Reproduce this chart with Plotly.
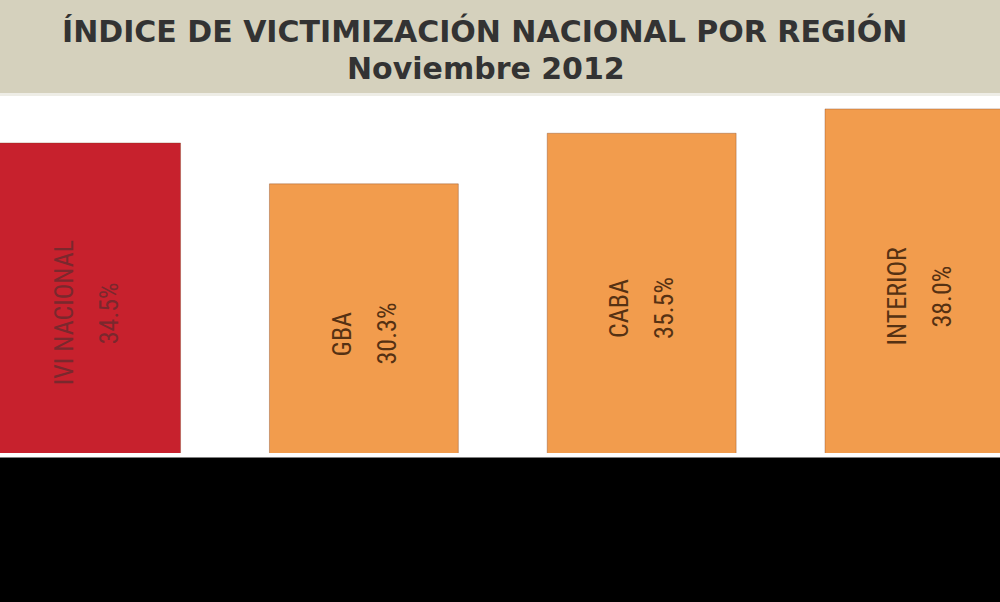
import plotly.graph_objects as go

# Data
regions = ["IVI NACIONAL", "GBA", "CABA", "INTERIOR"]
values = [34.5, 30.3, 35.5, 38.0]
value_labels = ["34.5%", "30.3%", "35.5%", "38.0%"]
bar_colors = ["#c7212d", "#f29c4d", "#f29c4d", "#f29c4d"]
text_colors = ["#7a282d", "#553113", "#553113", "#553113"]

title_line1 = "ÍNDICE DE VICTIMIZACIÓN NACIONAL POR REGIÓN"
title_line2 = "Noviembre 2012"

plot_h = 357.5  # pixel height of the white plot area
label_font = dict(family="Roboto Condensed, Liberation Sans Narrow, Liberation Sans, sans-serif", size=26)
title_font = dict(family="DejaVu Sans, sans-serif", size=30, color="#333333")

fig = go.Figure()
fig.add_trace(go.Bar(
    x=regions,
    y=values,
    marker=dict(color=bar_colors, line=dict(color="rgba(120,60,30,0.35)", width=1)),
    width=0.68,
    hoverinfo="x+y",
    showlegend=False,
))

# rotated labels inside the bars: region name and value side by side
for reg, val, lab, tc in zip(regions, values, value_labels, text_colors):
    fig.add_annotation(x=reg, y=val / 2 + 1.3, text=reg, textangle=-90, showarrow=False,
                       xshift=-22, yshift=-15, font=dict(label_font, color=tc))
    fig.add_annotation(x=reg, y=val / 2 + 1.3, text=lab, textangle=-90, showarrow=False,
                       xshift=23, yshift=-15, font=dict(label_font, color=tc))

# title band on top, thin white strip under the bars
fig.add_shape(type="rect", xref="paper", yref="paper", x0=0, x1=1,
              y0=1 + 3 / plot_h, y1=1 + 100 / plot_h,
              fillcolor="#d5d1bd", line=dict(width=0), layer="below")
fig.add_shape(type="rect", xref="paper", yref="paper", x0=0, x1=1,
              y0=1, y1=1 + 3 / plot_h,
              fillcolor="#eeede6", line=dict(width=0), layer="below")
fig.add_shape(type="rect", xref="paper", yref="paper", x0=0, x1=1,
              y0=-4.5 / plot_h, y1=0,
              fillcolor="white", line=dict(width=0), layer="below")

fig.add_annotation(xref="paper", yref="paper", x=0.484, y=1 + 65 / plot_h, text="<b>" + title_line1 + "</b>",
                   showarrow=False, yanchor="middle", font=title_font)
fig.add_annotation(xref="paper", yref="paper", x=0.486, y=1 + 28 / plot_h, text="<b>" + title_line2 + "</b>",
                   showarrow=False, yanchor="middle", font=title_font)

fig.update_layout(
    width=1000,
    height=602,
    margin=dict(l=0, r=0, t=96, b=148.5),
    paper_bgcolor="black",
    plot_bgcolor="white",
    bargap=0.32,
)
fig.update_xaxes(visible=False, range=[-0.31, 3.29])
fig.update_yaxes(visible=False, range=[2.63, 39.33])

fig.write_html("out.html", config={"displayModeBar": False},
               post_script="document.body.style.margin='0';")
